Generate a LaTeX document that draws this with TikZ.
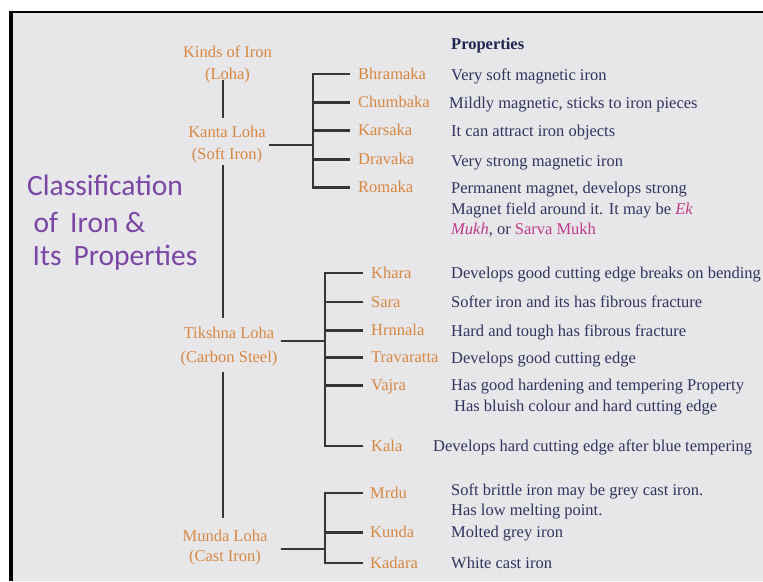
\documentclass[tikz,border=0pt]{standalone}
\usepackage{fontspec}
\setmainfont{Liberation Serif}
\newfontfamily\titlefont{Carlito}
\usetikzlibrary{calc}
\definecolor{bgc}{HTML}{E7E7E9}
\definecolor{org}{HTML}{D8873F}
\definecolor{navy}{HTML}{30345F}
\definecolor{hdr}{HTML}{1F2550}
\definecolor{purp}{HTML}{7B45A6}
\definecolor{mag}{HTML}{C03A8C}
\definecolor{lin}{HTML}{363636}
\begin{document}
\begin{tikzpicture}[x=1pt,y=-1pt,
  conn/.style={draw=lin,line width=2.4pt},
  kind/.style={font=\fontsize{16.5}{22}\selectfont,text=org,align=center,inner ysep=0pt,inner xsep=3pt},
  sub/.style={font=\fontsize{16.5}{20}\selectfont,text=org,anchor=mid west,inner sep=0pt,yshift=-3pt},
  desc/.style={font=\fontsize{16.5}{20}\selectfont,text=navy,anchor=mid west,inner sep=0pt,yshift=-3pt},
  ttl/.style={font=\titlefont\fontsize{29.5}{34}\selectfont,text=purp,anchor=base west,inner sep=0pt}]
\useasboundingbox (0,0) rectangle (763,581);
\fill[white] (0,0) rectangle (763,581);
\fill[bgc] (9,11) rectangle (763,581);
\fill[black] (9,11) rectangle (13,581);
\fill[black] (9,11) rectangle (763,13.3);

% title
\node[ttl] (t1) at (27,195) {Classification};
\node[ttl] (t2) at (33.5,232) {of\hspace{12pt}Iron \&};
\node[ttl] (t3) at (32.5,265) {Its\hspace{12pt}Properties};

% kinds of iron
\node[kind] (kinds) at (227.5,64) {Kinds of Iron\\(Loha)};
\node[kind] (kanta) at (227,145) {Kanta Loha\\(Soft Iron)};
\node[kind] (tik) at (229,347) {Tikshna Loha\\[2pt](Carbon Steel)};
\node[kind] (munda) at (225,548) {Munda Loha\\[-2pt](Cast Iron)};
\coordinate (trunk) at (223,0);

\draw[conn] ($(kinds.center -| trunk)+(0,16)$) -- ($(kanta.center -| trunk)+(0,-27)$);
\draw[conn] ($(kanta.center -| trunk)+(0,20)$) -- ($(tik.center -| trunk)+(0,-29)$);
\draw[conn] ($(tik.center -| trunk)+(0,25)$) -- ($(munda.center -| trunk)+(0,-30)$);

% sub kinds
\node[sub] (bhr) at (358,74) {Bhramaka};
\node[sub] (chu) at (358,102.5) {Chumbaka};
\node[sub] (kar) at (358,130.5) {Karsaka};
\node[sub] (dra) at (358,159.5) {Dravaka};
\node[sub] (rom) at (358,187.5) {Romaka};

\node[sub] (kha) at (371,273) {Khara};
\node[sub] (sar) at (371,302) {Sara};
\node[sub] (hrn) at (371,330.5) {Hrnnala};
\node[sub] (tra) at (371,357.5) {Travaratta};
\node[sub] (vaj) at (371,385.5) {Vajra};
\node[sub] (kal) at (371,446) {Kala};

\node[sub] (mrd) at (370,493) {Mrdu};
\node[sub] (kun) at (370,532.5) {Kunda};
\node[sub] (kad) at (370,563) {Kadara};

\coordinate (kb) at (313,145);
\coordinate (tb) at (325,341);
\coordinate (mb) at (325,549);

\draw[conn] (kanta.east |- kb) -- (kb);
\draw[conn] (tik.east |- tb) -- (tb);
\draw[conn] ($(munda.east |- mb)+(10,0)$) -- (mb);

\draw[conn] ($(bhr.mid west)+(-8,-3)$) -- ($(kb |- bhr.mid west)+(0,-3)$) -- ($(kb |- rom.mid west)+(0,-3)$) -- ($(rom.mid west)+(-8,-3)$);
\foreach \n in {chu,kar,dra} \draw[conn] ($(kb |- \n.mid west)+(0,-3)$) -- ($(\n.mid west)+(-8,-3)$);

\draw[conn] ($(kha.mid west)+(-8,-3)$) -- ($(tb |- kha.mid west)+(0,-3)$) -- ($(tb |- kal.mid west)+(0,-3)$) -- ($(kal.mid west)+(-8,-3)$);
\foreach \n in {sar,hrn,tra,vaj} \draw[conn] ($(tb |- \n.mid west)+(0,-3)$) -- ($(\n.mid west)+(-8,-3)$);

\draw[conn] ($(mrd.mid west)+(-7,-3)$) -- ($(mb |- mrd.mid west)+(0,-3)$) -- ($(mb |- kad.mid west)+(0,-3)$) -- ($(kad.mid west)+(-7,-3)$);
\draw[conn] ($(mb |- kun.mid west)+(0,-3)$) -- ($(kun.mid west)+(-7,-3)$);

% properties
\node[desc,font=\fontsize{16.5}{20}\selectfont\bfseries,text=hdr] (prop) at (451,44) {Properties};
\node[desc] (d1) at (451,75) {Very soft magnetic iron};
\node[desc] (d2) at (449,103) {Mildly magnetic, sticks to iron pieces};
\node[desc] (d3) at (451,131) {It can attract iron objects};
\node[desc] (d4) at (451,161.5) {Very strong magnetic iron};
\node[desc] (d5a) at (451,188) {Permanent magnet, develops strong};
\node[desc] (d5b) at (451,209) {Magnet field around it. It may be \textcolor{mag}{\textit{Ek}}};
\node[desc] (d5c) at (451,229.5) {\textcolor{mag}{\textit{Mukh}}, or \textcolor{mag}{Sarva Mukh}};
\node[desc] (d6) at (451,273) {Develops good cutting edge breaks on bending};
\node[desc] (d7) at (451,302) {Softer iron and its has fibrous fracture};
\node[desc] (d8) at (451,331.5) {Hard and tough has fibrous fracture};
\node[desc] (d9) at (451,358) {Develops good cutting edge};
\node[desc] (d10a) at (451,385) {Has good hardening and tempering Property};
\node[desc] (d10b) at (454,406) {Has bluish colour and hard cutting edge};
\node[desc] (d11) at (433,446) {Develops hard cutting edge after blue tempering};
\node[desc] (d12a) at (451,490) {Soft brittle iron may be grey cast iron.};
\node[desc] (d12b) at (451,510) {Has low melting point.};
\node[desc] (d13) at (451,532) {Molted grey iron};
\node[desc] (d14) at (451,563) {White cast iron};
\end{tikzpicture}
\end{document}
